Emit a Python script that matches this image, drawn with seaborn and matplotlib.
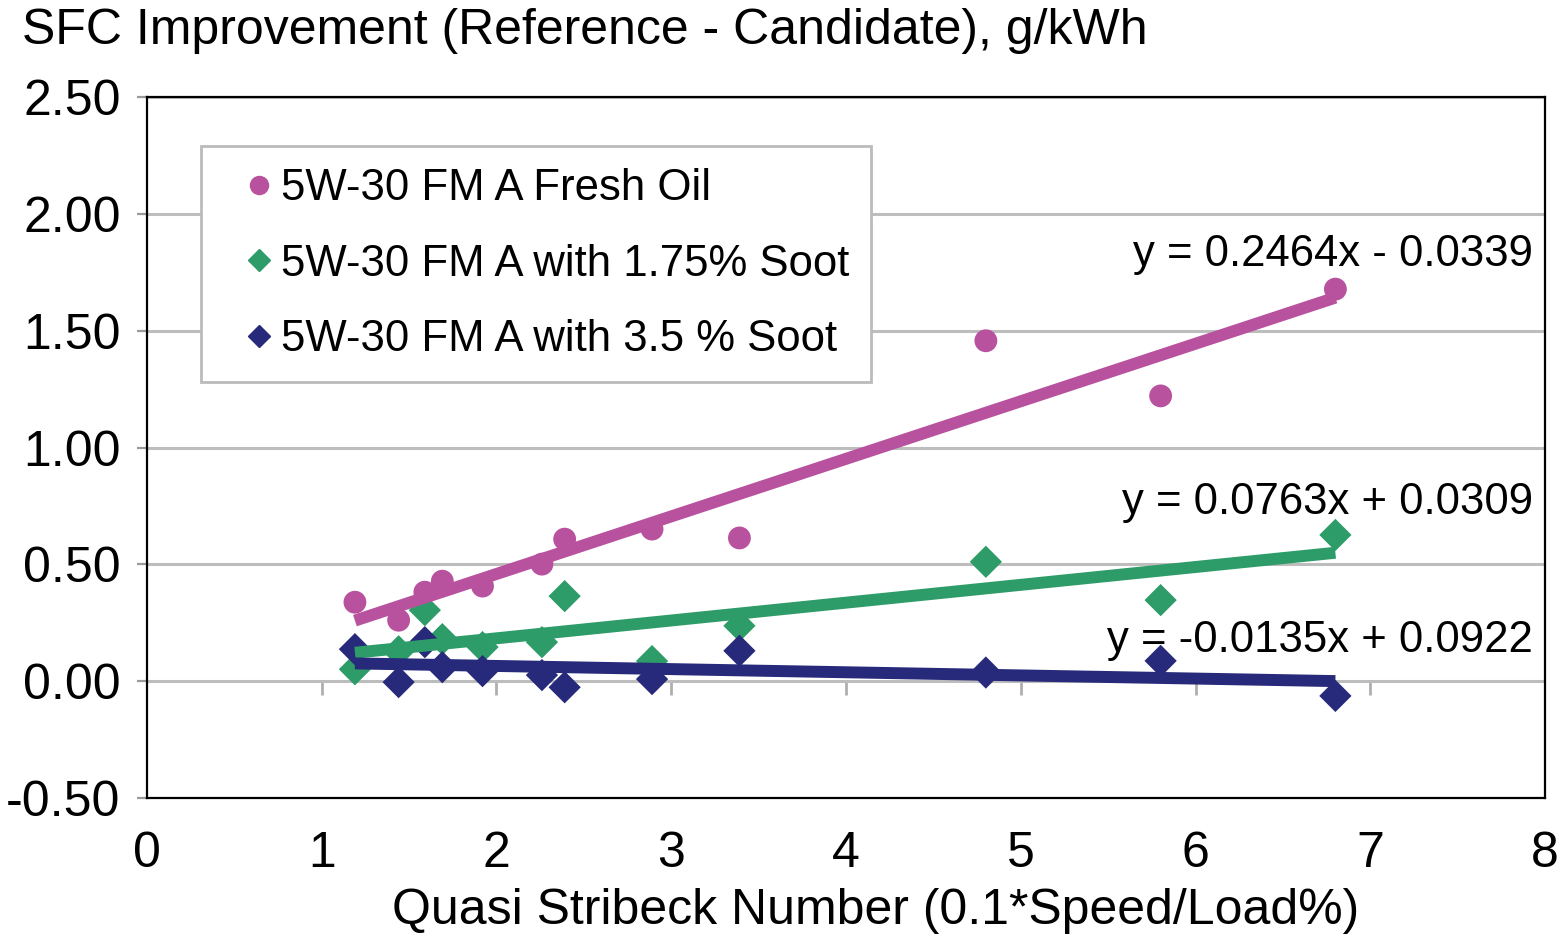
import numpy as np
import pandas as pd
import matplotlib
matplotlib.use("Agg")
import matplotlib.pyplot as plt
from matplotlib.lines import Line2D
import seaborn as sns

# Quasi Stribeck number of each operating point
stribeck = [1.19, 1.44, 1.59, 1.69, 1.92, 2.26, 2.39, 2.89, 3.39, 4.80, 5.80, 6.80]

# SFC improvement (reference - candidate), g/kWh
fresh_oil = [0.338, 0.261, 0.381, 0.428, 0.407, 0.501, 0.608, 0.651, 0.613, 1.457, 1.221, 1.678]
soot_175 = [0.051, 0.128, 0.304, 0.180, 0.146, 0.167, 0.364, 0.086, 0.237, 0.511, 0.347, 0.626]
soot_35 = [0.137, -0.004, 0.167, 0.060, 0.043, 0.026, -0.026, 0.009, 0.130, 0.037, 0.087, -0.063]

series_names = ["5W-30 FM A Fresh Oil",
                "5W-30 FM A with 1.75% Soot",
                "5W-30 FM A with 3.5 % Soot"]
slopes = [0.2464, 0.0763, -0.0135]
intercepts = [-0.0339, 0.0309, 0.0922]
equations = ["y = 0.2464x - 0.0339", "y = 0.0763x + 0.0309", "y = -0.0135x + 0.0922"]

x_ticks = [0, 1, 2, 3, 4, 5, 6, 7, 8]
y_ticks = [-0.5, 0.0, 0.5, 1.0, 1.5, 2.0, 2.5]

colors = ["#B8529E", "#2E9C69", "#27297A"]
markers = ["o", "D", "D"]

sns.set_theme(style="white")
plt.rcParams["font.family"] = ["Liberation Sans", "DejaVu Sans"]
plt.rcParams["text.color"] = "black"

df = pd.DataFrame({
    "x": stribeck * 3,
    "y": fresh_oil + soot_175 + soot_35,
    "series": sum([[n] * len(stribeck) for n in series_names], []),
})

fig = plt.figure(figsize=(15.65, 9.35), dpi=100)
ax = fig.add_axes([0.0939, 0.1465, 0.8934, 0.7497])

sns.scatterplot(data=df, x="x", y="y", hue="series", style="series",
                palette=dict(zip(series_names, colors)),
                markers=dict(zip(series_names, markers)),
                s=270, edgecolor="none", ax=ax, legend=False, zorder=3)

# Linear trend lines over the measured range
xr = np.array([min(stribeck), max(stribeck)])
for m, b, c in zip(slopes, intercepts, colors):
    ax.plot(xr, m * xr + b, color=c, lw=8.6, solid_capstyle="butt", zorder=4)

# Trend equations
eq_y = [1.825, 0.765, 0.175]
for txt, yy in zip(equations, eq_y):
    ax.text(7.93, yy, txt, ha="right", va="center", fontsize=31.5, color="black", zorder=5)

ax.set_xlim(0, 8)
ax.set_ylim(-0.5, 2.5)
ax.set_xticks(x_ticks)
ax.set_yticks(y_ticks)
ax.set_yticklabels([f"{v:.2f}" for v in y_ticks])
ax.grid(axis="y", color="#BDBDBD", lw=2.2)
ax.grid(axis="x", visible=False)
ax.set_axisbelow(True)
for sp in ax.spines.values():
    sp.set_visible(True)
    sp.set_color("black")
    sp.set_linewidth(1.6)

ax.tick_params(axis="x", length=0, pad=24, labelsize=36, labelcolor="black")
ax.tick_params(axis="y", length=7, width=1.6, color="#9A9A9A", direction="out",
               pad=12, labelsize=36, left=True, labelcolor="black")
ax.set_xlabel("")
ax.set_ylabel("")

# Horizontal axis crossing at y = 0 with hanging tick marks
zero_axis = ax.secondary_xaxis(0.5 / 3.0)
zero_axis.set_xticks(x_ticks[1:-1])
zero_axis.tick_params(axis="x", length=10, width=2, color="#AFAFAF", direction="out",
                      labelbottom=False, labeltop=False)
zero_axis.spines["bottom"].set_visible(False)
zero_axis.spines["top"].set_visible(False)

ax.text(0.5215, -0.128, "Quasi Stribeck Number (0.1*Speed/Load%)", transform=ax.transAxes,
        ha="center", va="top", fontsize=36)
fig.text(22 / 1565, 1 - 31 / 935, "SFC Improvement (Reference - Candidate), g/kWh",
         ha="left", va="center", fontsize=36)

handles = [Line2D([], [], linestyle="none", marker=mk, color=c, markersize=ms)
           for mk, c, ms in zip(markers, colors, [13, 11, 11])]
leg = ax.legend(handles, series_names, loc="upper left", bbox_to_anchor=(0.0386, 0.930),
                borderaxespad=0, fontsize=31.5, frameon=True, fancybox=False,
                handlelength=1.65, handletextpad=-0.32, labelspacing=0.79,
                borderpad=0.5, edgecolor="#BBBBBB", framealpha=1)
leg.get_frame().set_linewidth(2)
leg.set_zorder(6)
for t in leg.get_texts():
    t.set_color("black")

fig.savefig("out.png", dpi=100)
